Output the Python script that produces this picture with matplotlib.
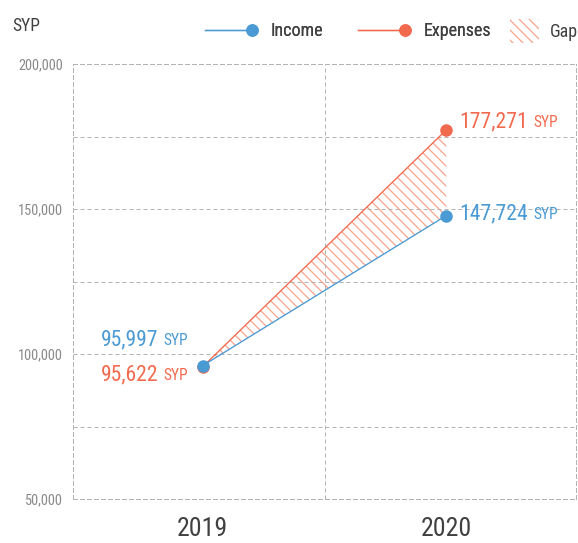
import numpy as np
import matplotlib
matplotlib.use("Agg")
import matplotlib.pyplot as plt
from matplotlib.lines import Line2D
from matplotlib.patches import Patch
from matplotlib.legend_handler import HandlerLine2D
from matplotlib.ticker import FuncFormatter

# values in SYP
years = ['2019', '2020']
income = [95997, 147724]
expenses = [95622, 177271]

BLUE = '#4a9ad4'
RED = '#f26a4e'
HATCH = '#f6a38b'
GRID = '#b3b3b3'
TICK = '#8a8a8a'
DARK = '#404040'

DPI = 120
plt.rcParams['font.family'] = ['Roboto Condensed', 'Roboto', 'DejaVu Sans']
plt.rcParams['hatch.linewidth'] = 0.75
plt.rcParams['hatch.color'] = HATCH


class EndMarkerHandler(HandlerLine2D):
    # line handle with the marker only at its right end
    def create_artists(self, *args, **kwargs):
        arts = super().create_artists(*args, **kwargs)
        for a in arts:
            a.set_markevery([len(a.get_xdata()) - 1])
        return arts


def value_label(ax, x, y, value, color, side, dy):
    # big number + small "SYP" suffix
    if side == 'right':
        num = ax.annotate(f'{value:,}', xy=(x, y), xytext=(8, dy), textcoords='offset points',
                          ha='left', va='center', fontsize=13, color=color)
        ax.annotate('SYP', xy=(1, 0), xycoords=num, xytext=(3, 1.5), textcoords='offset points',
                    ha='left', va='bottom', fontsize=9.3, color=color)
    else:
        syp = ax.annotate('SYP', xy=(x, y), xytext=(-9, dy), textcoords='offset points',
                          ha='right', va='center', fontsize=9.3, color=color)
        ax.annotate(f'{value:,}', xy=(0, 0), xycoords=syp, xytext=(-3, -1.5), textcoords='offset points',
                    ha='right', va='bottom', fontsize=13, color=color)


fig = plt.figure(figsize=(578 / DPI, 543 / DPI), dpi=DPI)
ax = fig.add_axes([73 / 578, 44 / 543, 503 / 578, 435 / 543])

x = np.arange(len(years))

ax.fill_between(x, income, expenses, facecolor='none', edgecolor=HATCH,
                hatch='\\\\\\\\', linewidth=0, zorder=1)
ax.plot(x, expenses, color=RED, lw=0.8, marker='o', ms=6.5, zorder=3)
ax.plot(x, income, color=BLUE, lw=0.8, marker='o', ms=6.5, zorder=4)

value_label(ax, x[1], expenses[1], expenses[1], RED, 'right', 5)
value_label(ax, x[1], income[1], income[1], BLUE, 'right', 1)
value_label(ax, x[0], income[0], income[0], BLUE, 'left', 15)
value_label(ax, x[0], expenses[0], expenses[0], RED, 'left', -5)

ax.set_xlim(-0.533, 1.533)
ax.set_ylim(50000, 200000)
ax.set_xticks(x)
ax.set_xticklabels(years)
ax.set_xticks([x.mean()], minor=True)
ax.set_yticks(np.arange(50000, 200001, 50000))
ax.set_yticks([75000, 125000, 175000], minor=True)
ax.yaxis.set_major_formatter(FuncFormatter(lambda v, p: f'{v:,.0f}'))

ax.tick_params(axis='y', which='both', length=0, pad=6, labelsize=8.6, labelcolor=TICK)
ax.tick_params(axis='x', which='both', length=0, pad=11, labelsize=15.5, labelcolor=DARK)
ax.grid(axis='y', which='both', color=GRID, lw=0.6, ls=(0, (4, 3)))
ax.grid(axis='x', which='minor', color=GRID, lw=0.6, ls=(0, (4, 3)))
for s in ax.spines.values():
    s.set_color(GRID)
    s.set_linewidth(0.6)
    s.set_linestyle((0, (4, 3)))

fig.text(12 / 578, 1 - 26 / 543, 'SYP', fontsize=10.5, color=DARK, ha='left', va='center')

# legend: two lines with an end marker, then the hatched gap
h_inc = Line2D([], [], color=BLUE, lw=0.8, marker='o', ms=6.5)
h_exp = Line2D([], [], color=RED, lw=0.8, marker='o', ms=6.5)
leg1 = fig.legend([h_inc, h_exp], ['Income', 'Expenses'], loc='center right',
                  bbox_to_anchor=(491 / 578, 1 - 31 / 543), ncol=2, numpoints=2,
                  handler_map={Line2D: EndMarkerHandler()},
                  frameon=False, fontsize=10.8, handlelength=3.2, handletextpad=0.75,
                  columnspacing=1.6, borderpad=0, borderaxespad=0, labelcolor=DARK)
h_gap = Patch(facecolor='none', edgecolor=HATCH, hatch='\\\\\\\\', lw=0)
fig.legend([h_gap], ['Gap'], loc='center right', bbox_to_anchor=(1.0, 1 - 31 / 543),
           frameon=False, fontsize=10.8, handlelength=1.6, handleheight=1.7,
           handletextpad=0.6, borderpad=0, borderaxespad=0, labelcolor=DARK)
fig.add_artist(leg1)

fig.savefig('out.png', dpi=DPI)
